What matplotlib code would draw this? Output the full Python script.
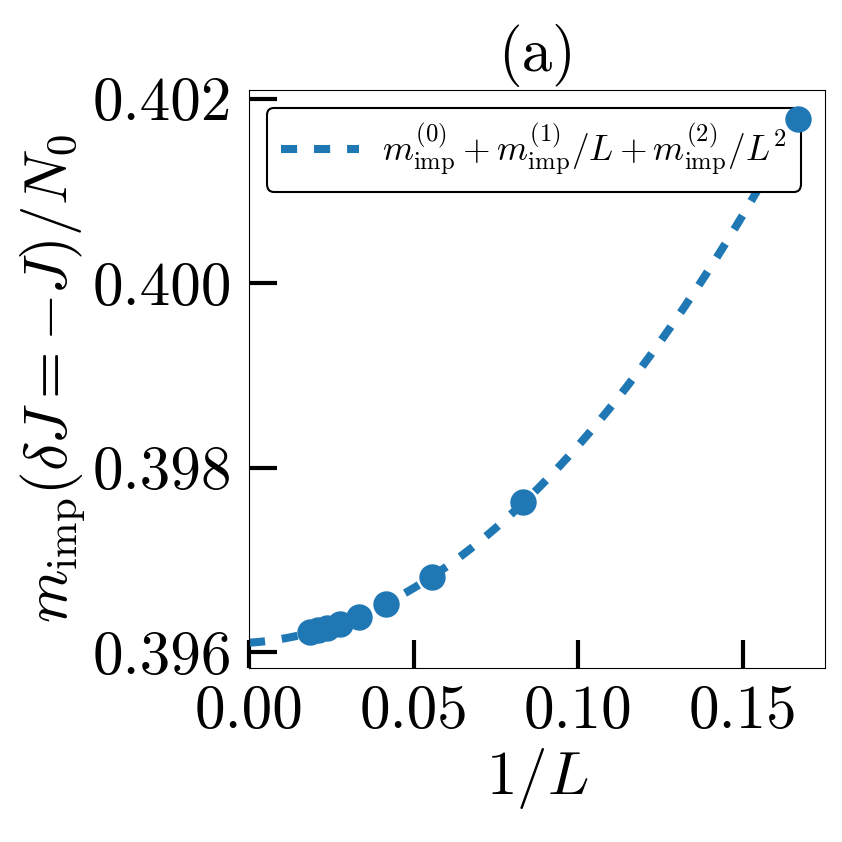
import matplotlib

matplotlib.use("Agg")

import matplotlib.pyplot as plt
import numpy as np

plt.rcParams["font.family"] = "serif"
plt.rcParams["font.serif"] = ["cmr10"]
plt.rcParams["mathtext.fontset"] = "cm"
plt.rcParams["axes.formatter.use_mathtext"] = True

# system sizes and impurity magnetization
L_values = np.array([6, 12, 18, 24, 30, 36, 42, 48, 54])
m_imp = np.array([0.40178, 0.397627, 0.396813, 0.396521, 0.39638, 0.396304, 0.39626, 0.39624, 0.396217])

inv_L = 1.0 / L_values

# quadratic fit in 1/L
coeffs = np.polyfit(inv_L, m_imp, 2)
x_fit = np.linspace(0.0, inv_L.max(), 200)
y_fit = np.polyval(coeffs, x_fit)

fig = plt.figure(figsize=(8.42, 8.42), dpi=100)
ax = fig.add_axes([0.2957, 0.2067, 0.6841, 0.6864])

ax.plot(x_fit, y_fit, ls=(0, (2.0, 2.1)), lw=5.8, color="tab:blue",
        label=r"$m_{\rm imp}^{(0)}+m_{\rm imp}^{(1)}/L+m_{\rm imp}^{(2)}/L^2$")
# markers sit above the legend box
ax.plot(inv_L, m_imp, "o", ms=18, color="tab:blue", zorder=6)

ax.set_xlim(0.0, 0.175)
ax.set_ylim(0.395826, 0.402095)
ax.set_xticks([0.0, 0.05, 0.10, 0.15])
ax.set_yticks([0.396, 0.398, 0.400, 0.402])
ax.xaxis.set_major_formatter(matplotlib.ticker.FormatStrFormatter("%.2f"))
ax.yaxis.set_major_formatter(matplotlib.ticker.FormatStrFormatter("%.3f"))
ax.tick_params(direction="in", length=20, width=3, labelsize=44, pad=12)
ax.minorticks_off()

ax.set_xlabel(r"$1/L$", fontsize=44)
ax.set_ylabel(r"$m_{\rm imp}(\delta J=-J)/N_0$", fontsize=44)
ax.set_title("(a)", fontsize=44, pad=14)

leg = ax.legend(loc="upper left", fontsize=25.5, frameon=True, fancybox=True,
                handlelength=2.2, handletextpad=0.65, borderpad=0.4)
leg.get_frame().set_edgecolor("black")
leg.get_frame().set_linewidth(1.5)
leg.get_frame().set_alpha(1.0)

fig.savefig("out.png", dpi=100)
